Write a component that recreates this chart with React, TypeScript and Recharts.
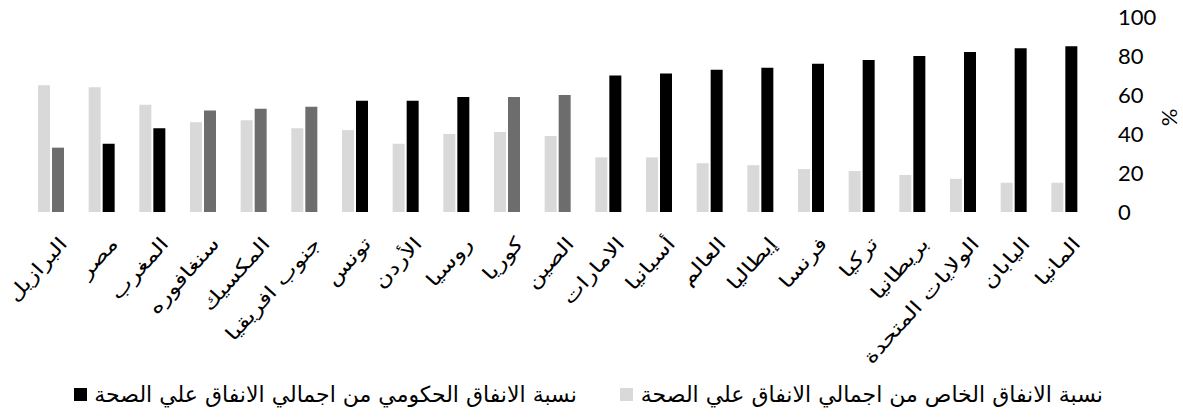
import { BarChart, Bar, XAxis, YAxis, Cell } from "recharts";

const countries = [
  "البرازيل", "مصر", "المغرب", "سنغافوره", "المكسيك", "جنوب افريقيا", "تونس",
  "الأردن", "روسيا", "كوريا", "الصين", "الامارات", "أسبانيا", "العالم",
  "إيطاليا", "فرنسا", "تركيا", "بريطانيا", "الولايات المتحدة", "اليابان", "المانيا",
];

// نسبة الانفاق الخاص (%)
const privateShare = [65, 64, 55, 46, 47, 43, 42, 35, 40, 41, 39, 28, 28, 25, 24, 22, 21, 19, 17, 15, 15];
// نسبة الانفاق الحكومي (%)
const govShare = [33, 35, 43, 52, 53, 54, 57, 57, 59, 59, 60, 70, 71, 73, 74, 76, 78, 80, 82, 84, 85];

const yTicks = [0, 20, 40, 60, 80, 100];

const privateLabel = "نسبة الانفاق الخاص من اجمالي الانفاق علي الصحة";
const govLabel = "نسبة الانفاق الحكومي من اجمالي الانفاق علي الصحة";

// the scan printed some government bars in mid grey
const greyGov = new Set([0, 3, 4, 5, 9, 10]);

const data = countries.map((c, i) => ({
  country: c,
  private: privateShare[i],
  gov: govShare[i],
}));

const ARABIC = "'DejaVu Sans', sans-serif";

function CountryTick(props: any) {
  const { x, y, payload } = props;
  return (
    <g transform={`translate(${x + 12},${y + 20}) rotate(-48) scale(1.28,1)`}>
      <text textAnchor="end" dy="0.35em" fontFamily={ARABIC} fontSize={19} fill="#000">
        {payload.value}
      </text>
    </g>
  );
}

export default function App() {
  return (
    <div style={{ position: "relative", width: 1183, height: 418, background: "#fff" }}>
      <style>{`body{margin:0}`}</style>
      <BarChart
        width={1183}
        height={418}
        data={data}
        margin={{ top: 17, right: 0, left: 26, bottom: 48 }}
        barGap={2}
        barSize={12}
      >
        <XAxis
          dataKey="country"
          interval={0}
          axisLine={false}
          tickLine={false}
          height={158}
          tick={<CountryTick />}
        />
        <YAxis
          orientation="right"
          domain={[0, 100]}
          ticks={yTicks}
          axisLine={false}
          tickLine={false}
          tickSize={0}
          tickMargin={28}
          width={93}
          tick={{ fontFamily: "Lato", fontSize: 22, fill: "#000" }}
        />
        <Bar dataKey="private" fill="#d9d9d9" isAnimationActive={false} />
        <Bar dataKey="gov" fill="#000" isAnimationActive={false}>
          {data.map((_, i) => (
            <Cell key={i} fill={greyGov.has(i) ? "#6d6d6d" : "#000"} />
          ))}
        </Bar>
      </BarChart>
      <div
        style={{
          position: "absolute",
          left: 1160,
          top: 104,
          fontFamily: "Lato",
          fontSize: 22,
          transform: "rotate(-90deg)",
        }}
      >
        %
      </div>
      <div
        style={{
          position: "absolute",
          top: 382,
          right: 80,
          display: "flex",
          alignItems: "center",
          fontFamily: ARABIC,
          fontSize: 22,
          color: "#000",
        }}
      >
        <span style={{ width: 13, height: 13, background: "#000", display: "inline-block" }} />
        <span style={{ marginLeft: 7 }}>{govLabel}</span>
        <span style={{ width: 13, height: 13, background: "#d9d9d9", display: "inline-block", marginLeft: 43 }} />
        <span style={{ marginLeft: 8 }}>{privateLabel}</span>
      </div>
    </div>
  );
}
